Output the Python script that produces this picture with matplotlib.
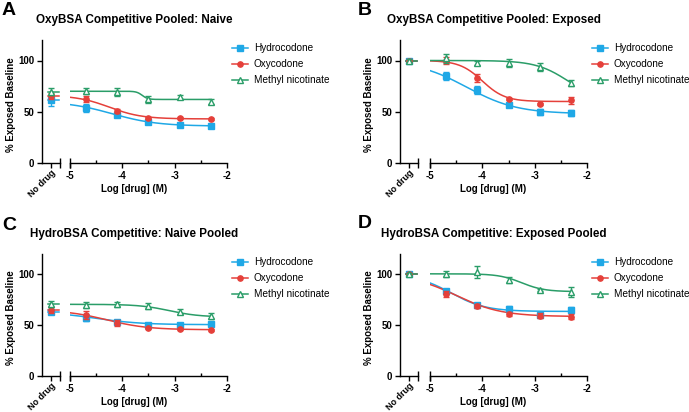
import numpy as np
import matplotlib
matplotlib.use('Agg')
import matplotlib.pyplot as plt

plt.rcParams['font.family'] = ['Liberation Sans', 'DejaVu Sans']
plt.rcParams['axes.unicode_minus'] = False

# log10 of drug concentration (M) for the dose points
x_log = [-4.7, -4.1, -3.5, -2.9, -2.3]
drugs = ['Hydrocodone', 'Oxycodone', 'Methyl nicotinate']
colors = ['#1fa8e6', '#e5403a', '#2a9d68']
markers = ['s', 'o', '^']
letters = ['A', 'B', 'C', 'D']
titles = ['OxyBSA Competitive Pooled: Naive',
          'OxyBSA Competitive Pooled: Exposed',
          'HydroBSA Competitive: Naive Pooled',
          'HydroBSA Competitive: Exposed Pooled']

# means: first value is "No drug", then one per x_log point (per drug)
A_mean = [[61, 54, 47, 40, 37, 36], [65, 62.5, 51, 43.5, 43.5, 43], [69.5, 70, 69.5, 62, 64.5, 60]]
A_err = [[5, 4, 2, 1.5, 1, 1], [3, 2.5, 2, 1, 1, 1], [3.5, 3, 4, 3, 2, 2]]
B_mean = [[100, 85, 71, 57, 50, 48.5], [100, 100, 83, 62, 58, 61], [100, 102, 97.5, 97.5, 94, 78]]
B_err = [[1, 4, 4, 2, 3, 3], [1, 3, 4, 1, 1, 3], [1, 4, 2, 4, 4, 2.5]]
C_mean = [[62.5, 57.5, 53, 50.5, 50, 51], [65, 60, 52.5, 47, 46.5, 45], [71, 69.5, 70.5, 69, 63, 59]]
C_err = [[2, 3, 2, 1, 1, 1], [3, 4, 3, 1, 1, 1], [3, 3, 2.5, 3, 2.5, 3]]
D_mean = [[100, 84, 69.5, 65.5, 60, 64.5], [100, 81, 69, 61, 59.5, 58.5], [100, 100, 102, 94.5, 85, 82.5]]
D_err = [[1, 2, 2, 3, 1, 3], [1, 3, 2, 2, 2, 2], [1, 3, 6, 3, 1, 5]]

# 4-parameter logistic fits: (top, bottom, logIC50, hill)
A_fit = [(60.3, 36, -4.2, 1.0), (66, 43, -4.25, 1.4), (70, 62, -3.62, 8)]
B_fit = [(100, 48, -4.3, 0.9), (100, 60, -4.0, 2.0), (100, 60, -2.36, 1.4)]
C_fit = [(63, 50.5, -4.5, 1.0), (65, 45.5, -4.3, 1.1), (70.5, 58, -3.1, 1.5)]
D_fit = [(100, 63.5, -4.6, 1.3), (100, 58.5, -4.5, 1.0), (100.5, 83, -3.25, 2.0)]

means = [A_mean, B_mean, C_mean, D_mean]
errs = [A_err, B_err, C_err, D_err]
fits = [A_fit, B_fit, C_fit, D_fit]

W, H = 689, 412
fig = plt.figure(figsize=(W / 100, H / 100), dpi=100)

# pixel layout per panel: y-axis x, break x, main start, main end, top, bottom
layout = [(42, 60, 70, 227, 40, 163),
          (400, 418, 430, 587, 40, 163),
          (42, 60, 70, 227, 254, 376),
          (400, 418, 430, 587, 254, 376)]
letter_pos = [(2, 2), (358, 2), (2, 217), (358, 215)]


def logistic(x, top, bottom, c, h):
    return bottom + (top - bottom) / (1 + 10 ** ((x - c) * h))


def fax(x0, x1, y0, y1):
    return [x0 / W, 1 - y1 / H, (x1 - x0) / W, (y1 - y0) / H]


for p in range(4):
    ya, brk, m0, m1, top, bot = layout[p]
    ax_nd = fig.add_axes(fax(ya, brk, top, bot))
    ax = fig.add_axes(fax(m0, m1, top, bot), sharey=ax_nd)

    for a in (ax_nd, ax):
        for s in ('top', 'right'):
            a.spines[s].set_visible(False)
        a.spines['bottom'].set_linewidth(1.0)
        a.spines['left'].set_linewidth(1.0)
        a.tick_params(direction='out', width=1.0, length=3.5, labelsize=7, pad=2)
    ax.spines['left'].set_visible(False)
    ax.tick_params(axis='y', left=False, labelleft=False)
    ax.tick_params(axis='x', which='minor', direction='in', length=2.5, width=1.0)

    ax_nd.set_ylim(0, 120)
    ax_nd.set_yticks([0, 50, 100])
    ax_nd.set_yticklabels(['0', '50', '100'], fontweight='bold', fontsize=7)
    ax_nd.set_xlim(-1, 1)
    ax_nd.set_xticks([0])
    ax_nd.set_xticklabels(['No drug'], rotation=45, ha='right', rotation_mode='anchor',
                          fontweight='bold', fontsize=6.5)
    ax_nd.tick_params(axis='x', pad=0.5)
    ax.set_xlim(-5, -2)
    ax.set_xticks([-5, -4, -3, -2])
    ax.set_xticklabels(['-5', '-4', '-3', '-2'], fontweight='bold', fontsize=7)
    ax.set_xticks([-4.5, -3.5, -2.5], minor=True)

    # break marks
    ax_nd.plot([1], [0], marker='|', ms=7, mew=1.0, color='black',
               transform=ax_nd.transAxes, clip_on=False)
    ax.plot([0], [0], marker='|', ms=7, mew=1.0, color='black',
            transform=ax.transAxes, clip_on=False)

    xs = np.linspace(-5, x_log[-1], 200)
    handles = []
    for i in range(3):
        c = colors[i]
        mfc = 'white' if markers[i] == '^' else c
        ms = 4.8 if markers[i] == '^' else 3.8
        m = means[p][i]
        e = errs[p][i]
        t, b, ic, h = fits[p][i]
        ax.plot(xs, logistic(xs, t, b, ic, h), color=c, lw=1.1, zorder=2 + i)
        ax.errorbar(x_log, m[1:], yerr=e[1:], fmt=markers[i], color=c, mfc=mfc,
                    mec=c, ms=ms, mew=1.0, elinewidth=1.0, capsize=2.2, capthick=1.0,
                    zorder=3 + i, clip_on=False)
        ax_nd.plot([-0.3, 0.9], [m[0], m[0]], color=c, lw=1.1, zorder=2 + i)
        ax_nd.errorbar([0], [m[0]], yerr=[e[0]], fmt=markers[i], color=c, mfc=mfc,
                       mec=c, ms=ms, mew=1.0, elinewidth=1.0, capsize=2.2, capthick=1.0,
                       zorder=3 + i, clip_on=False)
        hd, = ax.plot([], [], color=c, marker=markers[i], mfc=mfc, mec=c, ms=ms,
                      mew=1.0, lw=1.1)
        handles.append(hd)

    fig.legend(handles, drugs, loc='upper left',
               bbox_to_anchor=((m1 + 5) / W, 1 - (top + 3) / H),
               frameon=False, fontsize=7.2, handlelength=1.6, handletextpad=0.6,
               borderpad=0, borderaxespad=0, labelspacing=0.6)

    cx = (ya + m1) / 2
    fig.text(cx / W, 1 - (top - 20.5) / H, titles[p], ha='center', va='center',
             fontsize=8.4, fontweight='bold')
    fig.text(cx / W, 1 - (bot + 26) / H, 'Log [drug] (M)', ha='center', va='center',
             fontsize=7, fontweight='bold')
    fig.text((ya - 31) / W, 1 - ((top + bot) / 2 + 3) / H, '% Exposed Baseline',
             rotation=90, ha='center', va='center', fontsize=7, fontweight='bold')
    lx, ly = letter_pos[p]
    fig.text(lx / W, 1 - ly / H, letters[p], ha='left', va='top',
             fontsize=14, fontweight='bold')

fig.savefig('out.png', dpi=100)
